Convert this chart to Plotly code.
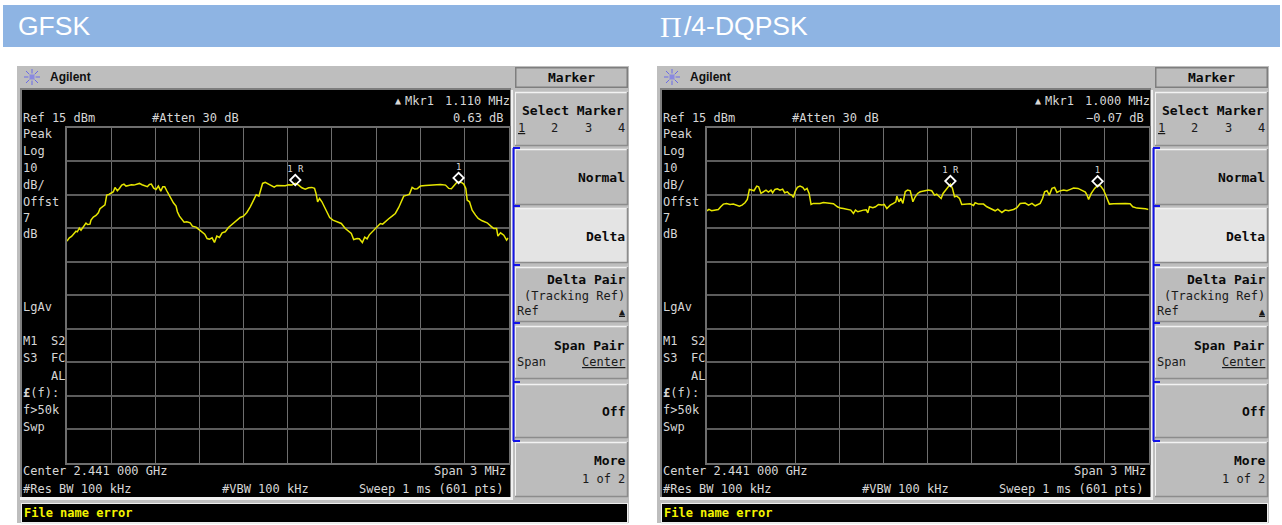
import plotly.graph_objects as go

W, H = 1282, 525

panel_titles = ["GFSK", "/4-DQPSK"]
ref_label = "Ref 15 dBm"
atten_label = "#Atten 30 dB"
center_label = "Center 2.441 000 GHz"
span_label = "Span 3 MHz"
rbw_label = "#Res BW 100 kHz"
vbw_label = "#VBW 100 kHz"
sweep_label = "Sweep 1 ms (601 pts)"
message_label = "File name error"
delta_freq_labels = ["1.110 MHz", "1.000 MHz"]
delta_level_labels = ["0.63 dB", "\u22120.07 dB"]

gfsk_khz = [-1500,-1484,-1469,-1453,-1439,-1430,-1416,-1405,-1394,-1382,-1371,-1360,-1344,-1337,-1321,-1303,-1287,-1276,-1258,-1242,
            -1230,-1215,-1196,-1185,-1174,-1158,-1144,-1128,-1113,-1099,-1081,-1063,-1045,-1026,-1008,-990,-972,-954,-940,-927,
            -911,-895,-879,-863,-849,-836,-822,-809,-793,-777,-759,-750,-736,-720,-704,-686,-663,-648,-623,-607,
            -584,-564,-548,-532,-514,-498,-482,-464,-446,-425,-403,-380,-350,-323,-301,-278,-255,-233,-214,-196,
            -183,-171,-153,-130,-108,-92,-74,-40,-17,6,28,51,74,96,119,142,164,182,192,203,
            216,232,255,273,285,307,334,364,391,414,432,448,471,486,507,523,539,554,568,591,
            613,629,645,663,686,709,731,754,772,788,811,827,845,863,879,901,935,970,1004,1038,
            1072,1094,1112,1128,1151,1180,1196,1210,1219,1235,1253,1276,1294,1321,1355,1378,1400,1419,1428,1446,
            1468,1487,1498]
gfsk_dbm = [-18.83,-17.83,-17.43,-16.74,-15.84,-16.04,-14.94,-15.54,-14.74,-14.24,-13.44,-13.84,-13.74,-12.54,-11.65,-11.15,-10.35,-9.15,-8.35,-7.95,
            -5.06,-4.86,-4.36,-4.06,-2.76,-3.76,-3.06,-2.07,-1.77,-2.36,-2.17,-1.97,-2.07,-1.87,-1.57,-1.97,-2.17,-2.56,-1.87,-1.77,
            -2.96,-3.36,-2.36,-3.86,-2.56,-2.56,-3.76,-4.86,-6.36,-7.35,-8.35,-10.05,-11.35,-12.24,-13.14,-13.04,-13.34,-14.34,-14.64,-15.24,
            -16.04,-16.74,-18.03,-18.23,-17.83,-19.23,-17.33,-17.73,-16.34,-16.04,-14.74,-13.84,-12.84,-11.75,-11.35,-10.25,-8.55,-6.56,-4.96,-5.36,
            -3.56,-1.57,-1.27,-1.77,-2.17,-2.66,-2.17,-2.17,-2.26,-1.97,-2.07,-1.57,-2.07,-2.86,-3.26,-2.86,-2.76,-3.06,-4.56,-7.06,
            -6.06,-7.06,-9.05,-10.55,-11.75,-12.54,-13.04,-13.54,-15.04,-15.84,-16.54,-18.33,-18.03,-18.13,-19.23,-17.63,-18.13,-16.94,-16.34,-15.34,
            -14.54,-13.54,-13.74,-12.94,-12.14,-11.35,-10.55,-8.75,-6.76,-5.36,-5.06,-4.76,-2.76,-3.26,-3.16,-2.36,-2.17,-2.07,-1.87,-1.87,
            -2.07,-3.06,-3.16,-2.36,-1.17,-1.27,-1.77,-3.06,-6.56,-7.06,-9.55,-11.05,-12.05,-12.74,-13.34,-14.24,-15.04,-15.04,-17.33,-16.34,
            -17.03,-18.53,-17.83]

dqpsk_khz = [-1500,-1487,-1469,-1446,-1423,-1407,-1389,-1367,-1344,-1321,-1303,-1280,-1262,-1242,-1226,-1212,-1196,-1181,-1162,-1149,
             -1133,-1117,-1099,-1083,-1065,-1054,-1038,-1022,-1004,-986,-972,-954,-940,-924,-913,-902,-886,-868,-849,-836,
             -820,-806,-793,-777,-754,-732,-709,-675,-641,-614,-595,-573,-546,-523,-505,-491,-475,-455,-437,-418,
             -407,-396,-373,-355,-335,-312,-296,-278,-255,-233,-217,-210,-196,-183,-169,-153,-137,-119,-101,-85,
             -69,-51,-28,-18,5,27,46,61,77,91,104,123,141,154,168,182,197,216,231,254,
             288,311,322,345,379,402,436,458,476,504,526,549,583,606,628,662,685,708,730,764,
             780,794,810,826,844,862,878,894,923,946,969,991,1021,1048,1071,1082,1093,1111,1134,1157,
             1175,1195,1218,1234,1263,1297,1343,1375,1393,1422,1456,1479,1500]
dqpsk_dbm = [-9.75,-9.35,-9.75,-9.55,-9.35,-8.55,-7.75,-7.55,-7.85,-7.75,-8.05,-8.35,-8.05,-7.35,-6.36,-3.36,-3.56,-3.76,-2.36,-2.56,
             -4.56,-4.06,-3.56,-4.16,-3.56,-4.36,-3.36,-3.16,-3.56,-3.26,-4.36,-4.06,-4.76,-5.06,-5.76,-4.06,-2.76,-2.36,-2.76,-3.56,
             -3.06,-4.56,-7.85,-7.55,-7.55,-7.55,-7.25,-7.55,-7.65,-8.55,-8.95,-9.05,-9.25,-9.55,-10.55,-9.55,-10.05,-9.75,-9.55,-9.45,
             -10.35,-8.55,-8.85,-8.55,-7.85,-8.05,-7.85,-9.05,-8.05,-7.55,-7.06,-5.36,-7.06,-6.06,-7.55,-4.06,-3.56,-3.76,-7.06,-5.56,
             -4.56,-4.06,-3.76,-3.76,-3.56,-3.76,-5.06,-4.76,-5.56,-6.06,-4.56,-3.56,-2.36,-1.77,-3.06,-5.56,-5.36,-6.06,-7.85,-7.75,
             -7.65,-8.15,-7.35,-7.75,-7.75,-8.55,-9.25,-9.75,-9.25,-10.25,-9.55,-9.75,-9.35,-8.85,-7.55,-7.45,-8.05,-7.55,-8.25,-7.55,
             -6.06,-4.06,-3.76,-5.06,-3.06,-2.76,-4.26,-3.86,-3.56,-3.76,-3.36,-2.96,-3.06,-3.56,-4.16,-5.06,-6.36,-4.56,-3.06,-2.07,
             -2.36,-3.56,-6.06,-7.75,-7.65,-7.55,-7.55,-7.65,-8.55,-8.95,-8.95,-9.15,-9.35]

marker_text = ["1 R", "1"]
gfsk_marker_khz = [51, 1161]
gfsk_marker_dbm = [-0.57, 0.06]
dqpsk_marker_khz = [154, 1154]
dqpsk_marker_dbm = [-0.87, -0.94]

traces = [(gfsk_khz, gfsk_dbm, gfsk_marker_khz, gfsk_marker_dbm),
          (dqpsk_khz, dqpsk_dbm, dqpsk_marker_khz, dqpsk_marker_dbm)]

MONO = "DejaVu Sans Mono"
GREY = "#BEBEBE"
TXT = "#D6D6D6"
BLUE = "#1414E6"


def fx(x):
    return x / W


def fy(y):
    return 1 - y / H


fig = go.Figure()
shapes = []
notes = []


def rect(x0, y0, x1, y1, fill):
    shapes.append(dict(type="rect", xref="paper", yref="paper", x0=fx(x0), x1=fx(x1),
                       y0=fy(y0), y1=fy(y1), fillcolor=fill, line=dict(width=0), layer="below"))


def seg(x0, y0, x1, y1, color, width=1):
    shapes.append(dict(type="line", xref="paper", yref="paper", x0=fx(x0), x1=fx(x1),
                       y0=fy(y0), y1=fy(y1), line=dict(color=color, width=width), layer="below"))


def txt(x, y, s, anchor="left", size=12, color=TXT, family=MONO):
    notes.append(dict(xref="paper", yref="paper", x=fx(x), y=fy(y), text=s, showarrow=False,
                      xanchor=anchor, yanchor="middle", borderpad=0, borderwidth=0,
                      font=dict(family=family, size=size, color=color)))


def button(o, y0, y1, light=False):
    rect(o + 515, y0, o + 628, y1, "#E4E4E4" if light else "#BCBCBC")
    seg(o + 515, y0 + 0.5, o + 628, y0 + 0.5, "#F2F2F2", 1.5)
    seg(o + 515.5, y0, o + 515.5, y1, "#F2F2F2", 1)
    seg(o + 515, y1 - 0.5, o + 628, y1 - 0.5, "#8C8C8C", 1.5)
    seg(o + 627.5, y0, o + 627.5, y1, "#8C8C8C", 1.5)


# header band
rect(3, 5, 1280, 47, "#8EB4E3")
txt(17.5, 26, panel_titles[0], size=26.5, color="#FFFFFF", family="Liberation Sans")
txt(660, 26, "\u03a0", size=30, color="#FFFFFF", family="Liberation Serif")
txt(684, 26, panel_titles[1], size=26.5, color="#FFFFFF", family="Liberation Sans")

for i, o in enumerate([0, 640]):
    rect(o + 17, 66, o + 629, 523, GREY)
    rect(o + 20, 88, o + 511, 497, "#7E7E7E")
    rect(o + 22, 90, o + 510, 497, "#000000")
    rect(o + 20, 497, o + 513, 500, "#F0F0F0")
    rect(o + 511, 90, o + 513, 497, "#F0F0F0")
    rect(o + 21, 503, o + 628, 524, "#EDEDED")
    rect(o + 22, 504, o + 627, 522, "#000000")

    # Agilent mark
    for dx, dy in [(8, 0), (6, 6), (0, 8), (-6, 6), (-8, 0), (-6, -6), (0, -8), (6, -6)]:
        seg(o + 32 + dx * 0.45, 77 + dy * 0.45, o + 32 + dx, 77 + dy, "#6A6AE8", 1)
    rect(o + 29.5, 74.5, o + 34.5, 79.5, "#8A8AE0")
    txt(o + 50, 77, "<b>Agilent</b>", size=12, color="#101010", family="Liberation Sans")

    # soft keys
    rect(o + 515, 67, o + 628, 88, "#7E7E7E")
    rect(o + 516.5, 68.5, o + 626.5, 86.5, GREY)
    for y0, y1, lit in [(92, 146, False), (149, 205, False), (208, 263, True), (267, 322, False),
                        (326, 379, False), (384, 438, False), (442, 497, False)]:
        button(o, y0, y1, lit)
    seg(o + 513.5, 148, o + 513.5, 441, BLUE, 2)
    for y in [148, 206, 265, 323, 382, 441]:
        seg(o + 513, y, o + 520, y, BLUE, 2)

    # screen annotations
    txt(o + 23, 118, ref_label)
    txt(o + 152, 118, atten_label)
    for y, s in [(134, "Peak"), (151, "Log"), (168, "10"), (185, "dB/"), (202, "Offst"), (218, "7"), (234, "dB"),
                 (307, "LgAv"), (341, "M1"), (358, "S3"), (393, "<b>\u00a3</b>(f):"), (410, "f&gt;50k"), (427, "Swp")]:
        txt(o + 23, y, s)
    txt(o + 64.5, 341, "S2", "right")
    txt(o + 64.5, 358, "FC", "right")
    txt(o + 64.5, 376, "AL", "right")
    txt(o + 23, 471, center_label)
    txt(o + 23, 489, rbw_label)
    txt(o + 222, 489, vbw_label)
    txt(o + 506, 471, span_label, "right")
    txt(o + 504, 489, sweep_label, "right")
    txt(o + 395, 101, "\u25b2", size=10)
    txt(o + 405, 101, "Mkr1", size=12)
    txt(o + 510, 101, delta_freq_labels[i], "right")
    txt(o + 504, 118, delta_level_labels[i], "right")
    txt(o + 24, 513, "<b>" + message_label + "</b>", color="#F4F400")

    # soft key labels
    key = dict(size=13, color="#0A0A0A")
    txt(o + 571, 77, "<b>Marker</b>", "center", **key)
    txt(o + 624, 111, "<b>Select Marker</b>", "right", **key)
    for x, s in [(521, "<u>1</u>"), (554, "2"), (588, "3"), (621, "4")]:
        txt(o + x, 128, s, "center", size=12, color="#1A1A1A")
    txt(o + 625, 177, "<b>Normal</b>", "right", **key)
    txt(o + 625, 236, "<b>Delta</b>", "right", **key)
    txt(o + 625, 279, "<b>Delta Pair</b>", "right", **key)
    txt(o + 625, 296, "(Tracking Ref)", "right", size=12, color="#1A1A1A")
    txt(o + 517, 311, "Ref", size=12, color="#1A1A1A")
    txt(o + 625, 311, "<u>\u25b2</u>", "right", size=10, color="#1A1A1A")
    txt(o + 625, 345, "<b>Span Pair</b>", "right", **key)
    txt(o + 517, 362, "Span", size=12, color="#1A1A1A")
    txt(o + 625, 362, "<u>Center</u>", "right", size=12, color="#1A1A1A")
    txt(o + 625, 411, "<b>Off</b>", "right", **key)
    txt(o + 625, 461, "<b>More</b>", "right", **key)
    txt(o + 625, 479, "1 of 2", "right", size=12, color="#1A1A1A")

    # trace and markers through real axes
    suffix = "" if i == 0 else "2"
    f, v, mf, mv = traces[i]
    fig.add_trace(go.Scatter(x=f, y=v, mode="lines", xaxis="x" + suffix, yaxis="y" + suffix,
                             line=dict(color="#E6E600", width=1.5), showlegend=False, hoverinfo="skip"))
    fig.add_trace(go.Scatter(x=mf, y=mv, mode="markers+text", text=marker_text, textposition="top center",
                             xaxis="x" + suffix, yaxis="y" + suffix, showlegend=False, hoverinfo="skip",
                             textfont=dict(family=MONO, size=9, color="#D8D8D8"),
                             marker=dict(symbol="diamond-open", size=8, color="#FFFFFF", line=dict(color="#FFFFFF", width=1.8))))

    axis_x = dict(domain=[fx(o + 67), fx(o + 508.5)], range=[-1500, 1500], dtick=300, tick0=-1500,
                  showticklabels=False, ticks="", zeroline=False, showgrid=True,
                  gridcolor="#6E6E6E", gridwidth=1.2, showline=True, linecolor="#6E6E6E", linewidth=1.5, mirror=True,
                  anchor="y" + suffix, fixedrange=True)
    axis_y = dict(domain=[fy(462.5), fy(128)], range=[-85, 15], dtick=10, tick0=15,
                  showticklabels=False, ticks="", zeroline=False, showgrid=True,
                  gridcolor="#5C5C5C", gridwidth=1.6, showline=True, linecolor="#6E6E6E", linewidth=1.5, mirror=True,
                  anchor="x" + suffix, fixedrange=True)
    fig.update_layout({"xaxis" + suffix: axis_x, "yaxis" + suffix: axis_y})

fig.update_layout(width=W, height=H, margin=dict(l=0, r=0, t=0, b=0), paper_bgcolor="#FFFFFF",
                  plot_bgcolor="rgba(0,0,0,0)", showlegend=False, shapes=shapes, annotations=notes)

fig.write_html("out.html", config={"displayModeBar": False},
               post_script="document.body.style.margin='0';document.body.style.overflow='hidden';")
